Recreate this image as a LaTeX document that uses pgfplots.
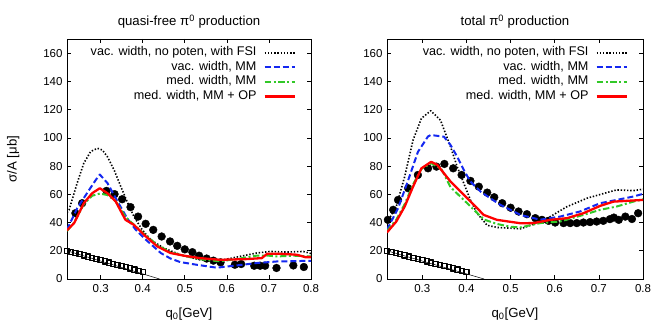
\documentclass[border=0pt]{standalone}
\usepackage{pgfplots}
\pgfplotsset{compat=1.18}
\usepackage{fontspec}
\setmainfont{Liberation Sans}
\definecolor{gpblue}{RGB}{20,40,240}
\definecolor{gpgreen}{RGB}{50,200,40}
\definecolor{gpred}{RGB}{255,0,0}
\newcommand{\gpfont}{\fontsize{13.2}{15}\selectfont}
\newcommand{\lgfont}{\fontsize{12.6}{14}\selectfont}
\newcommand{\tkfont}{\fontsize{11.5}{13}\selectfont}
\pgfplotsset{
  panel/.style={
    scale only axis,
    anchor=south west,
    height=240pt,
    xmin=0.22, xmax=0.8, ymin=0, ymax=170,
    xtick={0.3,0.4,0.5,0.6,0.7,0.8},
    xticklabels={0.3,0.4,0.5,0.6,0.7,0.8},
    ytick={0,20,40,60,80,100,120,140,160},
    yticklabels={0,20,40,60,80,100,120,140,160},
    tick align=inside,
    major tick length=4pt,
    tick style={black, line width=0.6pt},
    axis line style={line width=0.8pt},
    every axis plot/.append style={line join=round},
    font=\gpfont,
    tick label style={font=\tkfont},
    xticklabel style={yshift=-2pt},
    yticklabel style={xshift=-1pt},
    xlabel={q\textsubscript{0}[GeV]},
    xlabel style={yshift=-8pt},
    title style={yshift=1pt},
    clip mode=individual,
    legend style={draw=none, fill=none, at={(1,1)}, anchor=north east,
      xshift=-15pt, yshift=-6.5pt, font=\lgfont,
      nodes={inner sep=0pt, text height=10pt, text depth=4.5pt},
      cells={anchor=east}, row sep=0pt, column sep=7pt, inner sep=0pt},
    legend plot pos=right,
    legend image code/.code={\draw[#1] (0pt,0pt) -- (30pt,0pt);},
  },
  vacfsi/.style={black, line width=1.6pt, dash pattern=on 1.4pt off 1.8pt},
  vacmm/.style={gpblue, line width=2pt, dash pattern=on 6pt off 3pt},
  medmm/.style={gpgreen, line width=2pt, dash pattern=on 6.5pt off 2.5pt on 2pt off 2.5pt},
  medop/.style={gpred, line width=2.3pt},
  dots/.style={only marks, mark=*, mark size=3.9pt, black},
  squares/.style={only marks, mark=square, mark size=2.6pt, black, mark options={line width=1.2pt}},
}
\begin{document}
\begin{tikzpicture}
\useasboundingbox (0pt,0pt) rectangle (664pt,332pt);
% ---------------- left panel -----------------
\begin{axis}[panel, at={(67pt,53pt)}, width=244pt,
  title={quasi-free π\textsuperscript{0} production},
  ylabel={σ/A [μb]}, ylabel style={yshift=17pt}]
\addlegendimage{vacfsi}
\addlegendentry{vac. width, no poten, with FSI}
\addlegendimage{vacmm}
\addlegendentry{vac. width, MM}
\addlegendimage{medmm}
\addlegendentry{med. width, MM}
\addlegendimage{medop}
\addlegendentry{med. width, MM + OP}
\addplot[black, line width=0.5pt, forget plot] coordinates {(0.22,20) (0.44,0)};
\addplot[squares, forget plot] coordinates {
(0.22,20) (0.23,19.17) (0.24,18.33) (0.25,17.5) (0.26,16.67) (0.27,15.83) (0.28,15)
(0.29,14.17) (0.30,13.33) (0.31,12.5) (0.32,11.67) (0.33,10.83) (0.34,10) (0.35,9.17)
(0.36,8.33) (0.37,7.5) (0.38,6.67) (0.39,5.83) (0.40,5)};
\addplot[dots, forget plot] coordinates {
(0.240,46.6) (0.256,53.7) (0.314,62.4) (0.333,60.1) (0.351,56.5) (0.371,50.9)
(0.389,44.2) (0.407,39.1) (0.425,34.8) (0.445,30.1) (0.465,26.6) (0.482,23.5)
(0.500,21.0) (0.518,19.0) (0.534,16.5) (0.552,14.5) (0.568,13.0) (0.585,11.8)
(0.619,10.1) (0.634,10.6) (0.665,9.4) (0.679,9.4) (0.691,9.4) (0.718,7.8)
(0.758,9.6) (0.783,8.5)};
\addplot[vacfsi, forget plot] coordinates {
(0.22,47) (0.225,49) (0.244,67.8) (0.26,82) (0.276,90.2) (0.292,92.6) (0.304,91.4)
(0.316,86.6) (0.332,77.2) (0.348,65.4) (0.363,54.8) (0.379,44.2) (0.399,34.8)
(0.419,27.8) (0.45,21.9) (0.49,17.2) (0.504,16) (0.536,13.6) (0.576,12.9) (0.6,14.1)
(0.631,16) (0.671,18.4) (0.703,19.5) (0.742,19.1) (0.782,19.5) (0.8,18)};
\addplot[vacmm, forget plot] coordinates {
(0.22,35) (0.244,50) (0.268,61) (0.288,70) (0.298,74) (0.316,68) (0.34,55)
(0.363,43) (0.383,35) (0.403,29) (0.443,18.4) (0.466,14.5) (0.489,12)
(0.528,10.1) (0.576,8) (0.623,9.6) (0.671,11.3) (0.718,12.4) (0.8,12.9)};
\addplot[medmm, forget plot] coordinates {
(0.22,34) (0.237,40) (0.26,53) (0.28,59) (0.298,60.5) (0.316,59.5) (0.336,55)
(0.359,44) (0.379,38.5) (0.403,32) (0.435,24) (0.466,19) (0.498,16.5) (0.536,14)
(0.584,12.5) (0.63,14.5) (0.67,16.5) (0.70,16.5) (0.72,16) (0.76,16.5) (0.8,16)};
\addplot[medop, forget plot] coordinates {
(0.22,34.5) (0.237,39.6) (0.26,53.7) (0.28,60.8) (0.298,64.3) (0.316,60.8)
(0.336,54.8) (0.359,41.9) (0.379,38.4) (0.403,31.3) (0.435,23) (0.466,18.4)
(0.498,16.5) (0.536,14.8) (0.584,13.6) (0.647,14.1) (0.683,14.8) (0.696,17.9)
(0.726,17.9) (0.766,17.2) (0.786,15.5) (0.8,15.5)};
\end{axis}
% ---------------- right panel -----------------
\begin{axis}[panel, at={(387pt,53pt)}, width=256pt,
  title={total π\textsuperscript{0} production}]
\addlegendimage{vacfsi}
\addlegendentry{vac. width, no poten, with FSI}
\addlegendimage{vacmm}
\addlegendentry{vac. width, MM}
\addlegendimage{medmm}
\addlegendentry{med. width, MM}
\addlegendimage{medop}
\addlegendentry{med. width, MM + OP}
\addplot[black, line width=0.5pt, forget plot] coordinates {(0.22,20) (0.44,0)};
\addplot[squares, forget plot] coordinates {
(0.22,20) (0.23,19.17) (0.24,18.33) (0.25,17.5) (0.26,16.67) (0.27,15.83) (0.28,15)
(0.29,14.17) (0.30,13.33) (0.31,12.5) (0.32,11.67) (0.33,10.83) (0.34,10) (0.35,9.17)
(0.36,8.33) (0.37,7.5) (0.38,6.67) (0.39,5.83) (0.40,5)};
\addplot[dots, forget plot] coordinates {
(0.222,41.9) (0.234,49) (0.245,56) (0.268,64.3) (0.29,73.7) (0.313,78.4)
(0.332,79.6) (0.35,81.5) (0.37,78.4) (0.389,73.7) (0.409,69.5) (0.428,65.4)
(0.447,61.2) (0.463,57.9) (0.481,53.7) (0.5,50.5) (0.518,47.8) (0.537,45.9)
(0.556,43.1) (0.571,41.9) (0.586,41.2) (0.601,40) (0.62,39.6) (0.635,39.6)
(0.65,39.6) (0.665,40) (0.68,40.3) (0.695,40.7) (0.71,41.2) (0.725,42.4)
(0.734,43.5) (0.745,41.9) (0.76,44.2) (0.775,42.5) (0.789,46.6)};
\addplot[vacfsi, forget plot] coordinates {
(0.22,40) (0.241,51.3) (0.26,72.5) (0.279,98.4) (0.298,113.8) (0.319,119.2)
(0.341,112.6) (0.364,93.7) (0.379,79.6) (0.394,67.8) (0.409,56) (0.424,46.6)
(0.447,38) (0.47,36.5) (0.5,36) (0.522,35.5) (0.549,38.5) (0.567,40.7) (0.59,44.2)
(0.628,51.3) (0.673,57.2) (0.718,61.2) (0.74,63.1) (0.778,62.6) (0.8,63.6)};
\addplot[vacmm, forget plot] coordinates {
(0.22,35) (0.245,50) (0.268,70) (0.29,90) (0.313,101) (0.319,102) (0.349,100.8)
(0.364,94.9) (0.379,86.6) (0.394,77.2) (0.409,69) (0.432,61.9) (0.454,57.2)
(0.477,52.5) (0.507,47.8) (0.522,45.4) (0.567,42) (0.612,44.2) (0.657,47.8)
(0.703,53.7) (0.74,56) (0.778,58.4) (0.8,60.3)};
\addplot[medmm, forget plot] coordinates {
(0.22,34) (0.241,42) (0.26,53) (0.279,67) (0.298,78) (0.32,82) (0.343,78)
(0.364,65) (0.394,56) (0.43,45) (0.441,42) (0.469,39) (0.5,37) (0.522,36.5)
(0.567,39.6) (0.612,40.7) (0.665,45.4) (0.703,49) (0.74,51.3) (0.778,54.8) (0.8,56.5)};
\addplot[medop, forget plot] coordinates {
(0.22,33) (0.241,40.7) (0.26,51.3) (0.279,65.4) (0.298,78.4) (0.32,83)
(0.334,80.8) (0.364,69) (0.387,61.9) (0.417,52.5) (0.439,45.4) (0.469,41.9)
(0.5,40.5) (0.522,39.5) (0.552,39.6) (0.59,41.9) (0.628,43.1) (0.665,46.6)
(0.703,51.8) (0.733,54.8) (0.771,55.5) (0.8,56)};
\end{axis}
\end{tikzpicture}
\end{document}
